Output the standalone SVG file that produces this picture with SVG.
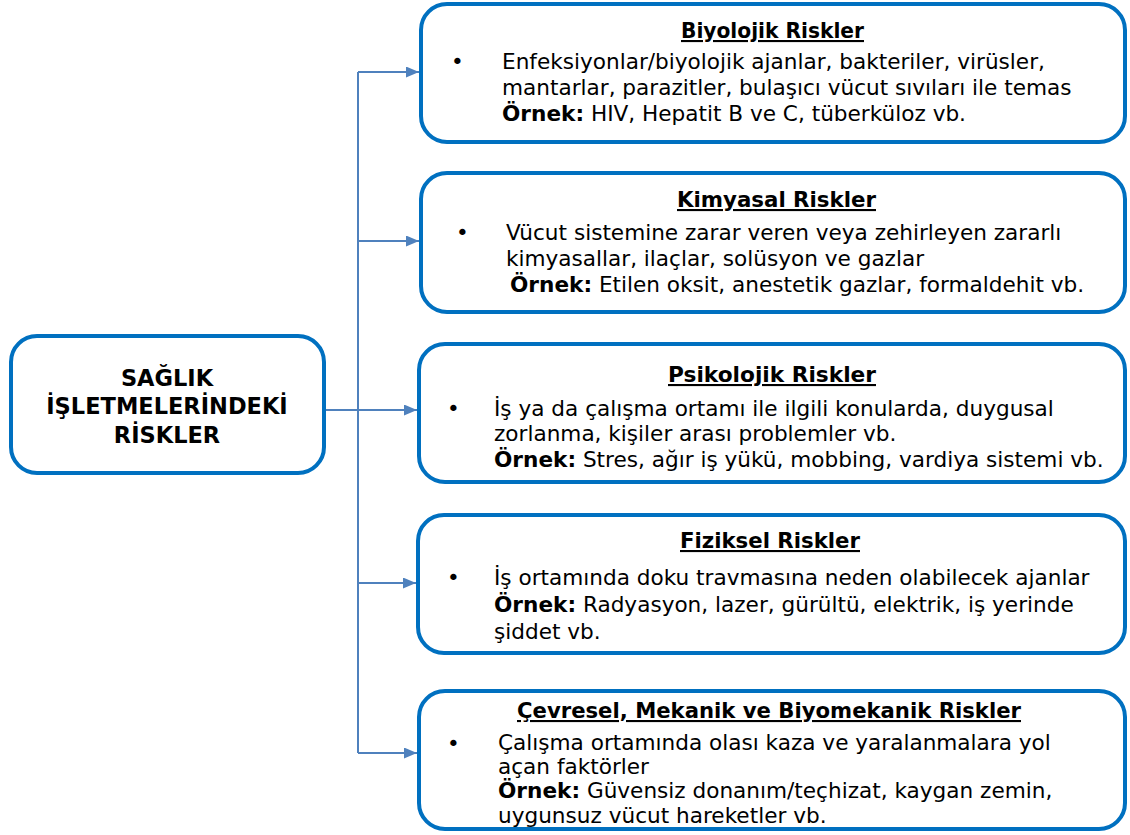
<svg xmlns="http://www.w3.org/2000/svg" width="1130" height="835" viewBox="0 0 1130 835">
<style>
.box{fill:#fff;stroke:#0070C0;stroke-width:4}
.conn{fill:none;stroke:#4F81BD;stroke-width:2}
text{font-family:"DejaVu Sans",Verdana,sans-serif;fill:#000}
.t{font-size:21px;font-weight:bold;text-anchor:middle;text-decoration:underline}
.b{font-size:21.6px}
.m{font-size:22.5px;font-weight:bold;text-anchor:middle}
.bold{font-weight:bold}
</style>
<defs>
<marker id="ah" markerUnits="userSpaceOnUse" markerWidth="14" markerHeight="12" refX="13" refY="5.5" orient="auto">
<path d="M0,0 L13,5.5 L0,11 z" fill="#4F81BD"/>
</marker>
</defs>
<g id="connectors">
<path class="conn" d="M325,410 H358 M358,72 V753"/>
<path class="conn" d="M358,72 H419" marker-end="url(#ah)"/>
<path class="conn" d="M358,241 H419" marker-end="url(#ah)"/>
<path class="conn" d="M358,410 H417" marker-end="url(#ah)"/>
<path class="conn" d="M358,583 H416" marker-end="url(#ah)"/>
<path class="conn" d="M358,753 H417" marker-end="url(#ah)"/>
</g>
<g id="root">
<rect class="box" x="11" y="336" width="313" height="137" rx="26"/>
<text class="m" x="167" y="386">SAĞLIK</text>
<text class="m" x="167" y="414">İŞLETMELERİNDEKİ</text>
<text class="m" x="167" y="443">RİSKLER</text>
</g>
<g id="biyolojik">
<rect class="box" x="421" y="4" width="704" height="138" rx="26"/>
<text class="t" x="772.5" y="38" textLength="183" lengthAdjust="spacingAndGlyphs">Biyolojik Riskler</text>
<text class="b" x="451" y="69">•</text>
<text class="b" x="502" y="69">Enfeksiyonlar/biyolojik ajanlar, bakteriler, virüsler,</text>
<text class="b" x="502" y="95">mantarlar, parazitler, bulaşıcı vücut sıvıları ile temas</text>
<text class="b" x="502" y="121"><tspan class="bold">Örnek:</tspan> HIV, Hepatit B ve C, tüberküloz vb.</text>
</g>
<g id="kimyasal">
<rect class="box" x="421" y="173" width="704" height="139" rx="26"/>
<text class="t" x="776.5" y="207" textLength="199" lengthAdjust="spacingAndGlyphs">Kimyasal Riskler</text>
<text class="b" x="456" y="240">•</text>
<text class="b" x="506" y="240">Vücut sistemine zarar veren veya zehirleyen zararlı</text>
<text class="b" x="506" y="266">kimyasallar, ilaçlar, solüsyon ve gazlar</text>
<text class="b" x="510" y="292"><tspan class="bold">Örnek:</tspan> Etilen oksit, anestetik gazlar, formaldehit vb.</text>
</g>
<g id="psikolojik">
<rect class="box" x="419" y="344" width="706" height="138" rx="26"/>
<text class="t" x="772" y="382" textLength="208" lengthAdjust="spacingAndGlyphs">Psikolojik Riskler</text>
<text class="b" x="447" y="416">•</text>
<text class="b" x="494" y="416">İş ya da çalışma ortamı ile ilgili konularda, duygusal</text>
<text class="b" x="494" y="441">zorlanma, kişiler arası problemler vb.</text>
<text class="b" x="494" y="467"><tspan class="bold">Örnek:</tspan> Stres, ağır iş yükü, mobbing, vardiya sistemi vb.</text>
</g>
<g id="fiziksel">
<rect class="box" x="418" y="515" width="707" height="138" rx="26"/>
<text class="t" x="770" y="548" textLength="180" lengthAdjust="spacingAndGlyphs">Fiziksel Riskler</text>
<text class="b" x="447" y="585">•</text>
<text class="b" x="494" y="585">İş ortamında doku travmasına neden olabilecek ajanlar</text>
<text class="b" x="494" y="612"><tspan class="bold">Örnek:</tspan> Radyasyon, lazer, gürültü, elektrik, iş yerinde</text>
<text class="b" x="494" y="639">şiddet vb.</text>
</g>
<g id="cevresel">
<rect class="box" x="419" y="691" width="706" height="138" rx="26"/>
<text class="t" x="769" y="718" textLength="504" lengthAdjust="spacingAndGlyphs">Çevresel, Mekanik ve Biyomekanik Riskler</text>
<text class="b" x="447" y="751">•</text>
<text class="b" x="498" y="750">Çalışma ortamında olası kaza ve yaralanmalara yol</text>
<text class="b" x="498" y="774">açan faktörler</text>
<text class="b" x="498" y="798"><tspan class="bold">Örnek:</tspan> Güvensiz donanım/teçhizat, kaygan zemin,</text>
<text class="b" x="498" y="823">uygunsuz vücut hareketler vb.</text>
</g>
</svg>
